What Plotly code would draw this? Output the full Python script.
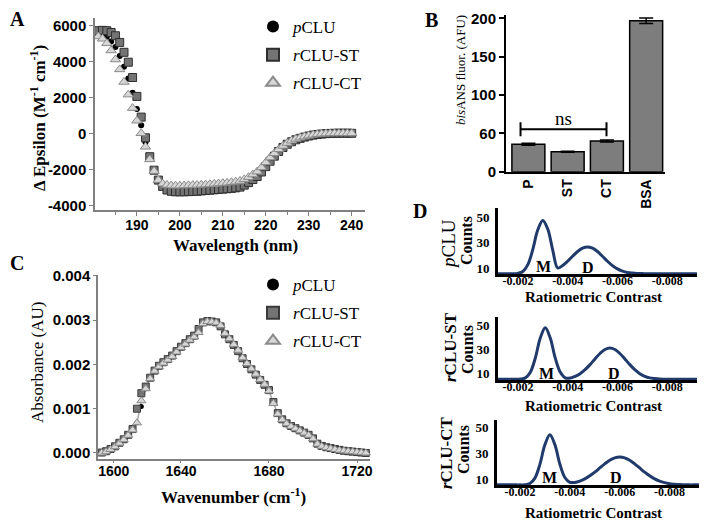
import plotly.graph_objects as go

W, H = 707, 524
OFF = 8  # the page body keeps its default 8 px margin round the figure
SERIF = "Liberation Serif"
SANS = "Liberation Sans"
NAVY = "#1f3a6b"

# ---------------- panel A : CD spectra ----------------
cd_wavelength = list(range(180, 241))
cd_pclu = [5550, 5560, 5500, 5350, 5100, 4800, 4300, 3700, 3050, 2250,
           1350, 450, -500, -1380, -2080, -2600, -2880, -3010, -3060, -3080,
           -3080, -3080, -3070, -3060, -3050, -3030, -3020, -3000, -2980, -2960,
           -2940, -2920, -2890, -2860, -2820, -2720, -2590, -2430, -2270, -2030,
           -1740, -1450, -1190, -950, -740, -570, -440, -330, -260, -195,
           -140, -90, -60, -35, -18, -6, 0, 0, 0, 0,
           0]
cd_st = [5650, 5700, 5720, 5700, 5600, 5420, 5050, 4500, 3950, 3100,
         2050, 900, -250, -1300, -2050, -2600, -2950, -3150, -3220, -3250,
         -3250, -3250, -3240, -3230, -3220, -3200, -3180, -3160, -3140, -3120,
         -3100, -3080, -3060, -3030, -2990, -2880, -2740, -2570, -2400, -2150,
         -1850, -1550, -1270, -1010, -790, -610, -470, -360, -280, -210,
         -150, -100, -65, -40, -20, -8, 0, 5, 5, 5,
         0]
cd_ct = [5400, 5380, 5250, 5000, 4600, 4100, 3550, 2850, 2150, 1400,
         700, 0, -750, -1450, -2100, -2600, -2800, -2870, -2900, -2910,
         -2910, -2900, -2890, -2880, -2870, -2860, -2850, -2830, -2810, -2790,
         -2770, -2750, -2720, -2690, -2650, -2560, -2440, -2290, -2130, -1900,
         -1620, -1350, -1110, -890, -700, -540, -410, -310, -240, -180,
         -130, -85, -55, -30, -15, -5, 0, 0, 0, 0,
         0]
cd_ticks = [190, 200, 210, 220, 230, 240]
eps_ticks = [-4000, -2000, 0, 2000, 4000, 6000]

# ---------------- panel B : bisANS ----------------
bis_labels = ["P", "ST", "CT", "BSA"]
bis_values = [35.7, 26.1, 40.0, 196.9]
bis_errors = [1.3, 0.7, 1.3, 3.6]
bis_tickvals = [0, 50, 100, 150, 200]
bis_ticktext = ["0", "60", "100", "150", "200"]

# ---------------- panel C : FTIR amide I ----------------
ftir_wavenumber = list(range(1602, 1726, 2))
ftir_pclu = [0.00000, 0.00000, 0.00003, 0.00008, 0.00014, 0.00022, 0.00030, 0.00040, 0.00052, 0.00068,
             0.00105, 0.00145, 0.00168, 0.00185, 0.00195, 0.00203, 0.00210, 0.00218, 0.00228, 0.00238,
             0.00246, 0.00255, 0.00262, 0.00272, 0.00292, 0.00297, 0.00296, 0.00294, 0.00288, 0.00270,
             0.00258, 0.00245, 0.00232, 0.00215, 0.00202, 0.00190, 0.00178, 0.00166, 0.00155, 0.00140,
             0.00112, 0.00088, 0.00075, 0.00066, 0.00060, 0.00055, 0.00050, 0.00045, 0.00040, 0.00032,
             0.00020, 0.00015, 0.00012, 0.00010, 0.00008, 0.00006, 0.00005, 0.00004, 0.00003, 0.00002,
             0.00001, 0.00000]
ftir_st = [0.00000, 0.00001, 0.00004, 0.00009, 0.00015, 0.00023, 0.00031, 0.00041, 0.00054, 0.00100,
           0.00135, 0.00150, 0.00170, 0.00186, 0.00197, 0.00205, 0.00212, 0.00220, 0.00230, 0.00240,
           0.00248, 0.00257, 0.00265, 0.00280, 0.00295, 0.00298, 0.00297, 0.00295, 0.00286, 0.00268,
           0.00257, 0.00244, 0.00230, 0.00214, 0.00201, 0.00189, 0.00177, 0.00165, 0.00154, 0.00142,
           0.00115, 0.00090, 0.00076, 0.00067, 0.00061, 0.00056, 0.00051, 0.00046, 0.00041, 0.00033,
           0.00021, 0.00016, 0.00013, 0.00011, 0.00009, 0.00007, 0.00005, 0.00004, 0.00003, 0.00002,
           0.00001, 0.00000]
ftir_ct = [0.00000, 0.00000, 0.00003, 0.00008, 0.00014, 0.00022, 0.00030, 0.00040, 0.00052, 0.00068,
           0.00118, 0.00145, 0.00168, 0.00185, 0.00195, 0.00203, 0.00210, 0.00218, 0.00228, 0.00238,
           0.00246, 0.00255, 0.00262, 0.00272, 0.00292, 0.00297, 0.00296, 0.00294, 0.00288, 0.00270,
           0.00258, 0.00245, 0.00232, 0.00215, 0.00202, 0.00190, 0.00178, 0.00166, 0.00155, 0.00140,
           0.00112, 0.00088, 0.00075, 0.00066, 0.00060, 0.00055, 0.00050, 0.00045, 0.00040, 0.00032,
           0.00020, 0.00015, 0.00012, 0.00010, 0.00008, 0.00006, 0.00005, 0.00004, 0.00003, 0.00002,
           0.00001, 0.00000]
ftir_tickvals = [1609.5, 1640, 1680, 1720]
ftir_ticktext = ["1600", "1640", "1680", "1720"]
abs_ticks = [0.0, 0.001, 0.002, 0.003, 0.004]

# ---------------- panel D : mass photometry ----------------
mp_contrast_even = [round(-0.0010 - 0.0002 * i, 4) for i in range(43)]
mp_contrast_odd = [round(-0.0011 - 0.0002 * i, 4) for i in range(42)]
mp_pclu = [5.5, 5.5, 5.5, 5.5, 5.5, 5.8, 7.3, 12.6, 24.6, 39.9,
           47.3, 40.5, 24.0, 10.0, 12.0, 15.3, 19.2, 22.9, 25.5, 26.5,
           25.5, 22.9, 19.2, 15.3, 11.9, 9.3, 7.6, 6.5, 6.0, 5.7,
           5.6, 5.5, 5.5, 5.5, 5.5, 5.5, 5.5, 5.5, 5.5, 5.5,
           5.5, 5.5, 5.5]
mp_st = [4.8, 4.8, 4.8, 4.8, 4.8, 5.0, 6.0, 10.6, 22.5, 39.2,
         47.8, 39.2, 22.6, 10.8, 6.0, 5.8, 7.3, 9.5, 12.8, 17.0,
         21.8, 26.3, 29.6, 30.8, 29.6, 26.3, 21.8, 17.0, 12.8, 9.5,
         7.3, 6.0, 5.4, 5.0, 4.9, 4.8, 4.8, 4.8, 4.8, 4.8,
         4.8, 4.8]
mp_ct = [5.5, 5.5, 5.5, 5.5, 5.5, 5.5, 5.6, 6.6, 10.7, 21.3,
         36.3, 44.1, 36.5, 21.5, 11.2, 7.5, 7.4, 8.4, 10.1, 12.5,
         15.3, 18.5, 21.7, 24.5, 26.3, 27.0, 26.3, 24.5, 21.7, 18.5,
         15.3, 12.5, 10.1, 8.4, 7.2, 6.4, 6.0, 5.7, 5.6, 5.5,
         5.5, 5.5, 5.5]
mp_xticks = [-0.002, -0.004, -0.006, -0.008]
mp_xtext = ["-0.002", "-0.004", "-0.006", "-0.008"]
mp_yticks = [10, 30, 50]


def px_x(x):
    return (x - OFF) / W


def px_y(y):
    return 1 - (y - OFF) / H


def xd(a, b):
    return [px_x(a), px_x(b)]


def yd(top, bottom):
    return [px_y(bottom), px_y(top)]


def note(text, x, y, size, bold=False, angle=0, family=SERIF, xanchor="center"):
    return dict(text=text, x=px_x(x), y=px_y(y), xref="paper", yref="paper",
                showarrow=False, textangle=angle, xanchor=xanchor, yanchor="middle",
                font=dict(family=family, size=size, color="black",
                          weight="bold" if bold else "normal"))


fig = go.Figure()

# A
styles = [
    ("<i>p</i>CLU", cd_pclu, dict(symbol="circle", size=6, color="black")),
    ("<i>r</i>CLU-ST", cd_st, dict(symbol="square", size=8, color="#747474",
                                   line=dict(color="#2e2e2e", width=1))),
    ("<i>r</i>CLU-CT", cd_ct, dict(symbol="triangle-up", size=9, color="#d6d6d6",
                                   line=dict(color="#8a8a8a", width=1))),
]
for name, vals, mk in styles:
    fig.add_trace(go.Scatter(x=cd_wavelength, y=vals, mode="markers", name=name,
                             marker=mk, legendgroup=name, legend="legend",
                             cliponaxis=False, xaxis="x", yaxis="y"))

# B
fig.add_trace(go.Bar(x=list(range(len(bis_labels))), y=bis_values, width=0.84,
                     marker=dict(color="#7d7d7d", line=dict(color="black", width=1.5)),
                     error_y=dict(type="data", array=bis_errors, color="black",
                                  thickness=1.5, width=7),
                     showlegend=False, xaxis="x2", yaxis="y2"))
fig.add_trace(go.Scatter(x=[-0.2, 1.99], y=[55.3, 55.3], mode="lines+markers",
                         line=dict(color="black", width=2),
                         marker=dict(symbol="line-ns", size=10,
                                     line=dict(color="black", width=2)),
                         showlegend=False, xaxis="x2", yaxis="y2"))

# C
fig.add_trace(go.Scatter(x=ftir_wavenumber, y=ftir_ct, mode="lines",
                         line=dict(color="#a8a8a8", width=1.5),
                         showlegend=False, xaxis="x3", yaxis="y3"))
c_styles = [
    ("<i>p</i>CLU", ftir_pclu, dict(symbol="circle", size=5, color="black")),
    ("<i>r</i>CLU-ST", ftir_st, dict(symbol="square", size=7, color="#747474",
                                     line=dict(color="#3a3a3a", width=1))),
    ("<i>r</i>CLU-CT", ftir_ct, dict(symbol="triangle-up", size=8, color="#d6d6d6",
                                     line=dict(color="#8a8a8a", width=1))),
]
for name, vals, mk in c_styles:
    fig.add_trace(go.Scatter(x=ftir_wavenumber, y=vals, mode="markers", name=name,
                             marker=mk, legendgroup="c" + name, legend="legend2",
                             cliponaxis=False, xaxis="x3", yaxis="y3"))

# D
for xs, vals, n in [(mp_contrast_even, mp_pclu, 4), (mp_contrast_odd, mp_st, 5),
                    (mp_contrast_even, mp_ct, 6)]:
    fig.add_trace(go.Scatter(x=xs, y=vals, mode="lines", line_shape="spline",
                             line=dict(color=NAVY, width=3), showlegend=False,
                             xaxis="x%d" % n, yaxis="y%d" % n))

tick_sans = dict(family=SANS, size=14, color="black", weight="bold")
tick_sans15 = dict(family=SANS, size=15, color="black", weight="bold")
tick_serif = dict(family=SERIF, size=13, color="black", weight="bold")
tick_serif_x = dict(family=SERIF, size=12, color="black", weight="bold")

# template axes push the margins by default; keep every domain where it is put
base = dict(showgrid=False, zeroline=False, showline=True, automargin=False)

d_x = dict(base, range=[-0.0012, -0.0092], tickvals=mp_xticks, ticktext=mp_xtext,
           ticks="", ticklabelstandoff=-6,
           linecolor="black", linewidth=3, tickfont=tick_serif_x)
d_y = dict(base, tickvals=mp_yticks, ticks="outside", ticklen=3,
           tickcolor="rgba(0,0,0,0)", linecolor="black", linewidth=3,
           tickfont=tick_serif)

fig.update_layout(
    width=W, height=H, margin=dict(l=0, r=0, t=0, b=0, autoexpand=False),
    plot_bgcolor="white", paper_bgcolor="white",
    xaxis=dict(base, domain=xd(95, 365), anchor="y", range=[180.25, 243.1],
               tickvals=cd_ticks, ticks="outside", ticklen=4, tickcolor="#808080",
               linecolor="#808080", linewidth=1.5, tickfont=tick_sans,
               ticklabelstandoff=-3,
               minor=dict(ticks="outside", ticklen=3, dtick=5, tick0=185,
                          tickcolor="#808080")),
    yaxis=dict(base, domain=yd(18, 210), anchor="x", range=[-4261, 6406],
               tickvals=eps_ticks, ticktext=[str(v) for v in eps_ticks],
               ticks="outside", ticklen=4, tickcolor="#808080",
               linecolor="#808080", linewidth=1.5, tickfont=tick_sans15),
    xaxis2=dict(base, domain=xd(506, 665), anchor="y2", range=[-0.57, 3.48],
                tickvals=list(range(len(bis_labels))), ticktext=bis_labels,
                tickangle=-90, ticks="", linecolor="black", linewidth=2,
                tickfont=tick_sans),
    yaxis2=dict(base, domain=yd(15, 171.7), anchor="x2", range=[0, 204.3],
                tickvals=bis_tickvals, ticktext=bis_ticktext, ticks="outside",
                ticklen=5, tickwidth=2, tickcolor="black", linecolor="black",
                linewidth=2, tickfont=tick_sans15),
    xaxis3=dict(base, domain=xd(98, 370), anchor="y3", range=[1602.3, 1725.9],
                tickvals=ftir_tickvals, ticktext=ftir_ticktext, ticks="outside",
                ticklen=2, tickcolor="#808080", linecolor="#808080", linewidth=1.5,
                tickfont=tick_sans, ticklabelstandoff=-4),
    yaxis3=dict(base, domain=yd(275, 459), anchor="x3", range=[-0.000136, 0.00402],
                tickvals=abs_ticks, ticktext=["%.3f" % v for v in abs_ticks],
                ticks="outside", ticklen=3, tickcolor="#808080",
                linecolor="#808080", linewidth=1.5, tickfont=tick_sans15),
    xaxis4=dict(d_x, domain=xd(498, 697), anchor="y4"),
    yaxis4=dict(d_y, domain=yd(208, 274), anchor="x4", range=[5.3, 57]),
    xaxis5=dict(d_x, domain=xd(498, 697), anchor="y5"),
    yaxis5=dict(d_y, domain=yd(317, 380), anchor="x5", range=[4.2, 56.7]),
    xaxis6=dict(d_x, domain=xd(497, 707), anchor="y6", range=[-0.00108, -0.0095]),
    yaxis6=dict(d_y, domain=yd(420, 485), anchor="x6", range=[5.4, 55.4]),
    legend=dict(x=px_x(253), y=px_y(9), xanchor="left", yanchor="top",
                font=dict(family=SERIF, size=17, color="black"),
                itemsizing="constant", bgcolor="rgba(0,0,0,0)", tracegroupgap=3),
    legend2=dict(x=px_x(253), y=px_y(267), xanchor="left", yanchor="top",
                 font=dict(family=SERIF, size=17, color="black"),
                 itemsizing="constant", bgcolor="rgba(0,0,0,0)", tracegroupgap=3),
)

annotations = [
    note("A", 8, 19, 20, bold=True, xanchor="left"),
    note("B", 432, 20, 20, bold=True),
    note("C", 17, 263, 20, bold=True),
    note("D", 420, 211, 20, bold=True),
    note("Δ Epsilon (M<sup>-1</sup> cm<sup>-1</sup>)", 38, 118, 17, bold=True, angle=-90),
    note("Wavelength (nm)", 235, 245, 17, bold=True),
    note("<i>bis</i>ANS fluor. (AFU)", 460, 70, 13, angle=-90),
    note("Absorbance (AU)", 37, 363, 17, angle=-90),
    note("Wavenumber (cm<sup>-1</sup>)", 233, 496, 17, bold=True),
    note("<i>p</i>CLU", 448, 244, 19, angle=-90),
    note("Counts", 467, 241, 16, bold=True, angle=-90),
    note("Ratiometric Contrast", 593, 297, 15, bold=True),
    note("<i>r</i>CLU-ST", 450, 347, 17, bold=True, angle=-90),
    note("Counts", 467, 350, 16, bold=True, angle=-90),
    note("Ratiometric Contrast", 593, 406, 15, bold=True),
    note("<i>r</i>CLU-CT", 446, 453, 17, bold=True, angle=-90),
    note("Counts", 463, 450, 16, bold=True, angle=-90),
    note("Ratiometric Contrast", 593, 513, 15, bold=True),
    note("M", 543.5, 266, 16, bold=True),
    note("D", 588, 267, 16, bold=True),
    note("M", 546, 373, 16, bold=True),
    note("D", 614, 373, 16, bold=True),
    note("M", 549, 477, 16, bold=True),
    note("D", 616, 477, 16, bold=True),
    dict(text="ns", x=0.9, y=70, xref="x2", yref="y2", showarrow=False,
         font=dict(family=SERIF, size=19, color="black")),
]
fig.update_layout(annotations=annotations)

fig.write_html("out.html")
